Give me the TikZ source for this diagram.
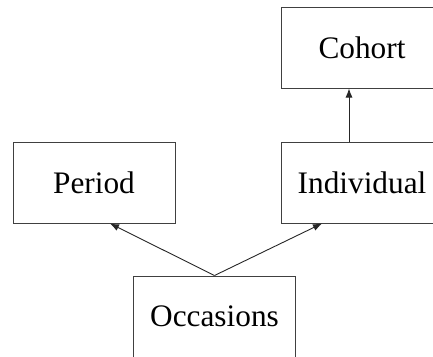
\documentclass[tikz,border=0pt]{standalone}
\usepackage{fontspec}
\setmainfont{Liberation Serif}
\usetikzlibrary{arrows.meta}
\begin{document}
\begin{tikzpicture}[x=1pt,y=-1pt,
  box/.style={draw=black!75,line width=1pt,minimum width=162pt,minimum height=81pt,inner sep=0pt,
    font=\fontsize{31.3}{36}\selectfont},
  link/.style={draw=black!85,line width=0.9pt,-{Latex[length=9pt,width=7pt]}}]
\useasboundingbox (0,0) rectangle (433,356);
\clip (0,0) rectangle (433,356);
\node[box] (coh) at (362,47.5) {Cohort};
\node[box] (per) at (94,182.5) {Period};
\node[box] (ind) at (362,182.5) {Individual};
\node[box] (occ) at (214.5,316.5) {Occasions};
\draw[link] (occ.north) -- ([xshift=16pt]per.south);
\draw[link] (occ.north) -- ([xshift=-40pt]ind.south);
\draw[link] ([xshift=-13pt]ind.north) -- ([xshift=-13pt]coh.south);
\end{tikzpicture}
\end{document}
